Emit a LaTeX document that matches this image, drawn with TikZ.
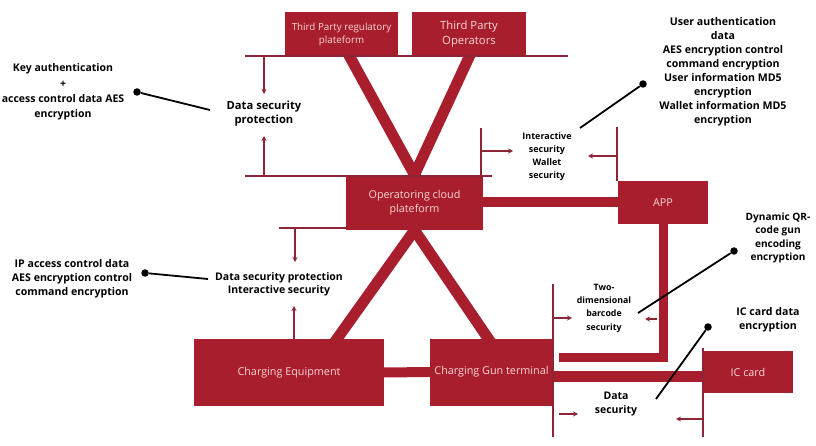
\documentclass[tikz,border=0pt]{standalone}
\usepackage{fontspec}
\setmainfont{Open Sans}
\usetikzlibrary{calc,backgrounds,arrows.meta}

\definecolor{brick}{RGB}{168,30,45}
\definecolor{wine}{RGB}{140,38,55}
\definecolor{blush}{RGB}{248,214,214}

\begin{document}
\begin{tikzpicture}[x=1pt,y=-1pt,
        block/.style={
        fill=brick, text=blush, align=center,
        inner sep=0pt, font=\fontsize{10.8}{14}\selectfont},
        band/.style={draw=brick, line width=11pt},
        rail/.style={draw=wine, line width=1.6pt},
        arr/.style={draw=wine, line width=1.6pt, -{Stealth[length=5pt,width=5pt]}},
        note/.style={align=center, inner sep=1pt, font=\bfseries\fontsize{10.5}{13.5}\selectfont},
        dot/.style={circle, fill=black, inner sep=0pt, minimum size=7.5pt},
        pointer/.style={draw=black, line width=1.8pt},
        ]

        \useasboundingbox (0,0) rectangle (816,446);

        \node (reg) [block, minimum width=113pt, minimum height=45pt, font=\fontsize{9.8}{13.5}\selectfont] at (341.5,34.5) {Third Party regulatory\\plateform};
        \node (ops) [block, minimum width=114pt, minimum height=45pt, font=\fontsize{11.3}{15}\selectfont] at (469,34.5) {Third Party\\Operators};
        \node (cloud) [block, minimum width=137pt, minimum height=55pt] at (414.5,202.5) {Operatoring cloud\\plateform};
        \node (app) [block, minimum width=90pt, minimum height=43pt] at (663,202.5) {APP};
        \node (equip) [block, minimum width=190pt, minimum height=67pt] at (289,372.5) {Charging Equipment};
        \node (gun) [block, minimum width=123pt, minimum height=67pt] at (491.5,372) {Charging Gun terminal};
        \node (iccard) [block, minimum width=90pt, minimum height=42pt] at (748,372) {IC card};

        \coordinate (regfoot) at ([xshift=8.5pt]reg.south);
        \coordinate (equiptop) at ([xshift=48pt]equip.north);
        \coordinate (guntop) at ([xshift=-3.5pt]gun.north);

        \begin{pgfonlayer}{background}
        \draw[band] ($(cloud.north)!1.1!(regfoot)$) -- ($(regfoot)!1.12!(cloud.north)$);
        \draw[band] ($(cloud.north)!1.1!(ops.south)$) -- ($(ops.south)!1.12!(cloud.north)$);
        \draw[band] ($(cloud.south)!1.1!(equiptop)$) -- ($(equiptop)!1.12!(cloud.south)$);
        \draw[band] ($(cloud.south)!1.1!(guntop)$) -- ($(guntop)!1.12!(cloud.south)$);
        \draw[band, line width=10pt] (cloud.east) -- (app.west);
        \draw[band, line width=10pt] ([xshift=-2pt]equip.east) -- ([xshift=2pt]gun.west);
        \draw[band] ($(gun.east)+(0,4.5)$) -- ($(iccard.west)+(0,4.5)$);
        \draw[band, line width=9pt] (app.south) |- ($(gun.east)+(6,-15)$);
        \end{pgfonlayer}

        \node (dsp) [note, font=\bfseries\fontsize{11.2}{14}\selectfont] at (264,114) {Data security\\protection};
        \node (iws) [note, font=\bfseries\fontsize{9}{13}\selectfont] at (547,157) {Interactive\\security\\Wallet\\security};
        \node (dsi) [note, font=\bfseries\fontsize{10.5}{13}\selectfont] at (279,284) {Data security protection\\Interactive security};
        \node (tdb) [note, font=\bfseries\fontsize{8.8}{13.3}\selectfont] at (604,308) {Two-\\dimensional\\barcode\\security};
        \node (dsec) [note, font=\bfseries\fontsize{10.5}{14}\selectfont] at (616,404) {Data\\security};

        \node (keyauth) [note, font=\bfseries\fontsize{10.5}{15.3}\selectfont] at (63,92) {Key authentication\\+\\access control data AES\\encryption};
        \node (userauth) [note, font=\bfseries\fontsize{10.6}{14}\selectfont] at (723,72) {User authentication\\data\\AES encryption control\\command encryption\\User information MD5\\encryption\\Wallet information MD5\\encryption};
        \node (ipacc) [note, font=\bfseries\fontsize{10.6}{14}\selectfont] at (72,279) {IP access control data\\AES encryption control\\command encryption};
        \node (qr) [note, font=\bfseries\fontsize{10.1}{13.3}\selectfont] at (778,238) {Dynamic QR-\\code gun\\encoding\\encryption};
        \node (icdata) [note, font=\bfseries\fontsize{10.6}{14}\selectfont] at (768,320) {IC card data\\encryption};

        \coordinate (topl) at (245,56);
        \coordinate (topr) at (568,56);
        \coordinate (midl) at (245,176);
        \coordinate (midr) at (492,176);
        \coordinate (lowl) at (279,228);

        \draw[rail] (topl) -- (topr) (midl) -- (midr) (lowl) -- (lowl -| cloud.west);
        \draw[rail] (481,128) -- (481,176) (617,127) -- (app.north -| 617,0);
        \draw[rail] (553,284) -- (553,437) (703,348) -- (703,437);

        \draw[arr] (dsp.north |- topl) -- ++(0,38);
        \draw[arr] (dsp.south |- midl) -- ++(0,-40);
        \draw[arr] (481,151) -- ++(32,0);
        \draw[arr] (617,156) -- ++(-29,0);
        \draw[arr] (295,228) -- ++(0,34);
        \draw[arr] (294,340) -- ++(0,-34);
        \draw[arr] (553,318) -- ++(19,0);
        \draw[arr] (657,319) -- ++(-12,0);
        \draw[arr] (559,414) -- ++(19,0);
        \draw[arr] (703,419) -- ++(-27,0);

        \node (d1) [dot] at (137,92) {};
        \node (d2) [dot] at (145,273) {};
        \node (d3) [dot] at (643,84) {};
        \node (d4) [dot] at (734,251) {};
        \node (d5) [dot] at (708,327) {};

        \draw[pointer] (d1) -- (210,110) (d2) -- (208,279) (d3) -- (580,128) (d4) -- (638,313) (d5) -- (656,399);
    \end{tikzpicture}
\end{document}
